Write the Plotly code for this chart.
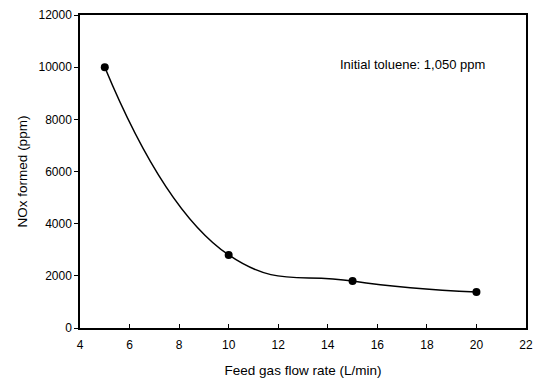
import plotly.graph_objects as go

flow_rate = [5, 10, 15, 20]
nox_formed = [10000, 2800, 1800, 1380]
x_ticks = [4, 6, 8, 10, 12, 14, 16, 18, 20, 22]
y_ticks = [0, 2000, 4000, 6000, 8000, 10000, 12000]
note = "Initial toluene: 1,050 ppm"

font_family = "Arial, Liberation Sans, sans-serif"

fig = go.Figure()
fig.add_trace(go.Scatter(
    x=flow_rate, y=nox_formed, mode="lines+markers",
    line=dict(color="black", width=1.5, shape="spline", smoothing=1.3),
    marker=dict(color="black", size=8),
    showlegend=False,
))

fig.add_annotation(x=17.4, y=10100, text=note, showarrow=False,
                   font=dict(family=font_family, size=13, color="black"))

fig.update_layout(
    width=538, height=383,
    margin=dict(l=80, r=12, t=15, b=55, autoexpand=False),
    paper_bgcolor="white", plot_bgcolor="white",
    font=dict(family=font_family, color="black"),
)
fig.update_xaxes(
    range=[4, 22], tickvals=x_ticks, ticktext=[str(v) for v in x_ticks],
    showgrid=False, zeroline=False, showline=True, mirror=True,
    linecolor="black", linewidth=1.5, ticks="inside", ticklen=4,
    tickcolor="black", tickfont=dict(size=12), automargin=False,
    ticklabelstandoff=5,
    title=dict(text="Feed gas flow rate (L/min)", font=dict(size=13.5), standoff=14),
)
fig.update_yaxes(
    range=[0, 12000], tickvals=y_ticks, ticktext=[str(v) for v in y_ticks],
    showgrid=False, zeroline=False, showline=True, mirror=True,
    linecolor="black", linewidth=1.5, ticks="outside", ticklen=4,
    tickcolor="black", tickfont=dict(size=12), automargin=False,
    title=dict(text="NOx formed (ppm)", font=dict(size=13.5), standoff=8),
)

fig.write_html("out.html")
